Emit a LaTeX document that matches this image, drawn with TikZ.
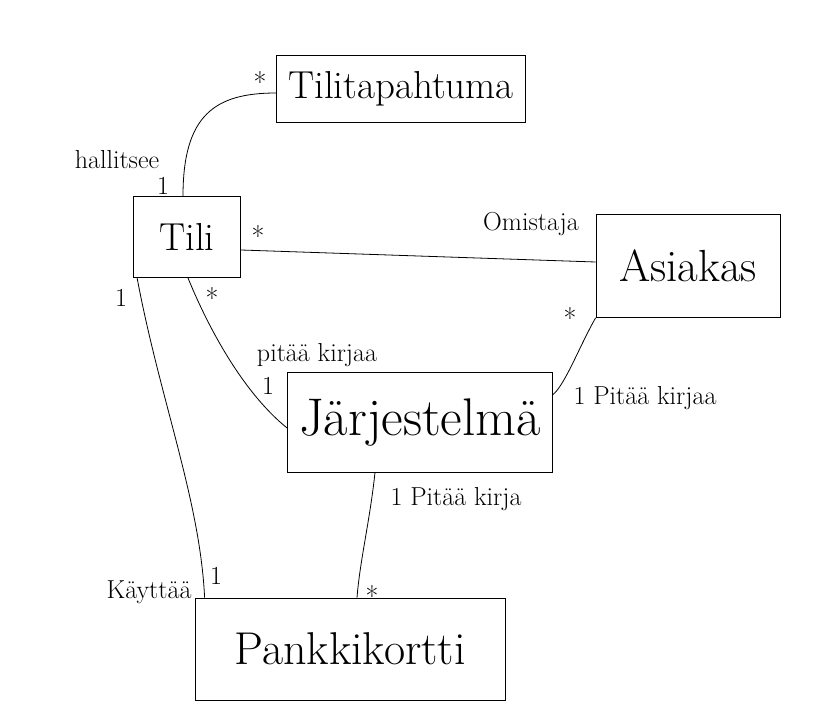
\documentclass[tikz,border=0pt]{standalone}
\begin{document}
\begin{tikzpicture}[x=1pt,y=-1pt,
  cls/.style={draw, line width=0.8pt, inner sep=0pt},
  big/.style={font=\fontsize{39}{41}\selectfont},
  lbl/.style={font=\fontsize{26}{28}\selectfont, inner sep=1pt},
  mult/.style={font=\fontsize{28}{30}\selectfont, inner sep=1pt},
  conn/.style={line width=0.8pt}]
\useasboundingbox (0,0) rectangle (835,719);
% classes
\node[cls, big, minimum width=249pt, minimum height=67pt] (tp) at (401,89) {Tilitapahtuma};
\node[cls, big, minimum width=107pt, minimum height=81pt] (tili) at (187,237) {Tili};
\node[cls, font=\fontsize{45}{47}\selectfont, minimum width=184pt, minimum height=103pt] (asi) at (688,266) {Asiakas};
\node[cls, font=\fontsize{53}{55}\selectfont, minimum width=265pt, minimum height=100pt] (jar) at (420,422) {Järjestelmä};
\node[cls, font=\fontsize{46}{48}\selectfont, minimum width=310pt, minimum height=102pt] (pk) at (350,649) {Pankkikortti};
% connectors
\draw[conn] ([xshift=-4pt]tili.north) .. controls (183,115) and (215,93) .. ([yshift=-4pt]tp.west);
\draw[conn] ([yshift=-13pt]tili.east) -- ([yshift=4pt]asi.west);
\draw[conn] (asi.south west) .. controls (580,345) and (565,385) .. ([yshift=-23pt]jar.north east);
\draw[conn] ([xshift=1pt]tili.south) .. controls (205,320) and (240,390) .. ([yshift=-6pt]jar.west);
\draw[conn] ([xshift=-45pt]jar.south) .. controls (370,520) and (360,560) .. ([xshift=7pt]pk.north);
\draw[conn] ([xshift=4pt]tili.south west) .. controls (160,400) and (200,500) .. ([xshift=10pt]pk.north west);
% multiplicities and roles
\node[mult] (m1) at (260,82) {*};
\node[lbl] (r1) at (117,160) {hallitsee};
\node[lbl] (m2) at (163,186) {1};
\node[mult] (m3) at (258,236) {*};
\node[lbl] (r2) at (531,224) {Omistaja};
\node[mult] (m4) at (570,318) {*};
\node[mult] (m5) at (212,298) {*};
\node[lbl] (m6) at (121,298) {1};
\node[lbl] (r3) at (317,355) {pitää kirjaa};
\node[lbl] (m7) at (268,386) {1};
\node[lbl] (r4) at (645,398) {1 Pitää kirjaa};
\node[lbl] (r5) at (456,499) {1 Pitää kirja};
\node[mult] (m8) at (372,596) {*};
\node[lbl] (m9) at (216,576) {1};
\node[lbl] (r6) at (149,592) {Käyttää};
\end{tikzpicture}
\end{document}
